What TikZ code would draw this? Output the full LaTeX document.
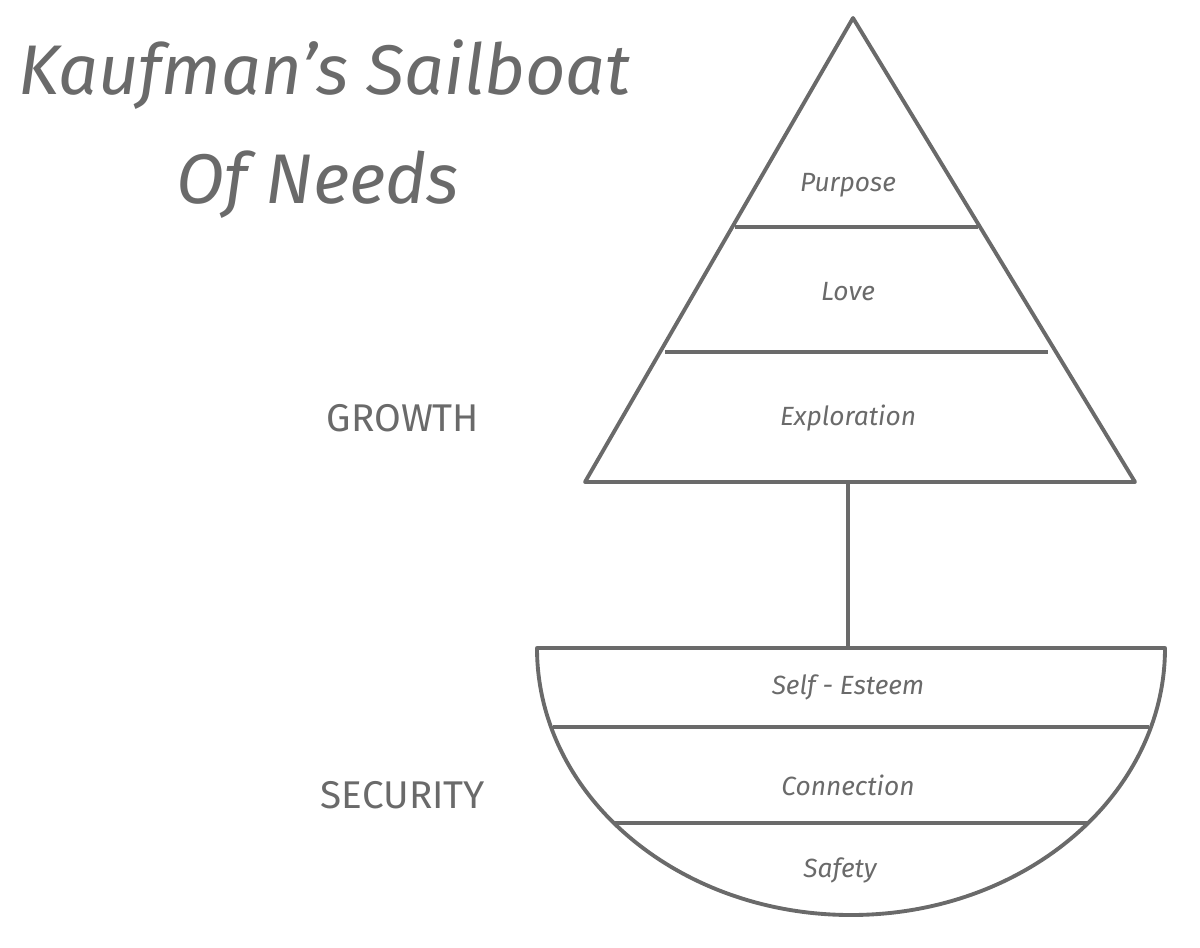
\documentclass[tikz,border=0pt]{standalone}
\usepackage{fontspec}
\setmainfont{Fira Sans}
\definecolor{ink}{HTML}{6A6A6A}
\begin{document}
\begin{tikzpicture}[x=0.02cm,y=-0.02cm,
  edge/.style={draw=ink,line width=2.2pt,line join=round},
  lbl/.style={text=ink,font=\fontsize{15}{18}\selectfont\itshape},
  side/.style={text=ink,font=\fontsize{22}{26}\selectfont},
  ttl/.style={text=ink,font=\fontsize{40}{46}\selectfont\itshape,anchor=west}]
\useasboundingbox (0,0) rectangle (1200,947);
% sail
\coordinate (apex) at (853,18);
\coordinate (bl) at (585,482);
\coordinate (br) at (1135,482);
\draw[edge] (apex) -- (br) -- (bl) -- cycle;
\coordinate (l1a) at (735,227); \coordinate (l1b) at (978,227);
\coordinate (l2a) at (665,352); \coordinate (l2b) at (1048,352);
\draw[edge] (l1a) -- (l1b);
\draw[edge] (l2a) -- (l2b);
% mast
\coordinate (mtop) at (848,482);
\coordinate (mbot) at (848,648);
\draw[edge] (mtop) -- (mbot);
% hull
\coordinate (hl) at (537,648);
\coordinate (hr) at (1165,648);
\draw[edge] (hl) -- (hr) arc[start angle=0,end angle=-180,x radius=314,y radius=-267] -- cycle;
\coordinate (h1a) at (553,727); \coordinate (h1b) at (1149,727);
\coordinate (h2a) at (614,823); \coordinate (h2b) at (1088,823);
\draw[edge] (h1a) -- (h1b);
\draw[edge] (h2a) -- (h2b);
% labels
\node[lbl] (purpose) at (848,185) {Purpose};
\node[lbl] (love) at (848,292) {Love};
\node[lbl] (expl) at (848,418) {Exploration};
\node[lbl] (self) at (848,687) {Self - Esteem};
\node[lbl] (conn) at (848,785) {Connection};
\node[lbl] (safety) at (840,870) {Safety};
\node[side] (growth) at (403,418) {GROWTH};
\node[side] (security) at (403,795) {SECURITY};
\node[ttl] (t1) at (12,75) {Kaufman’s Sailboat};
\node[ttl] (t2) at (170,185) {Of Needs};
\end{tikzpicture}
\end{document}
